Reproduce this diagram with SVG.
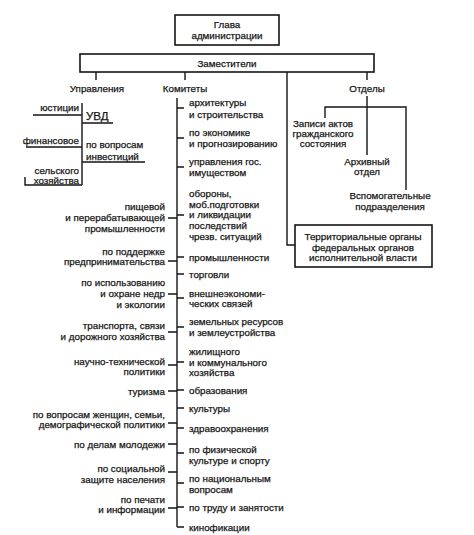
<svg xmlns="http://www.w3.org/2000/svg" width="474" height="535" viewBox="0 0 474 535">
<style>
text{font-family:"Liberation Sans",Arial,sans-serif;font-size:9.8px;fill:#151515;stroke:#151515;stroke-width:0.25}
.m{text-anchor:middle}
.r{text-anchor:end}
.box{fill:#fff;stroke:#151515;stroke-width:1.6}
.ln{fill:none;stroke:#151515;stroke-width:1.4}
</style>
<rect width="474" height="535" fill="#fff"/>
<g id="connectors" class="ln">
<path d="M96 72V80M185 72V80M367 72V80M287 72V245H295"/>
<path d="M82 103V185M33 115H82M82 123H113M26 147H82M82 162H145M25 177V185H82"/>
<path d="M177 98V527"/>
<path d="M177 108H184M177 138H184M177 167H184M177 215H184M177 257H184M177 274H184M177 298H184M177 327H184M177 362H184M177 390H184M177 408H184M177 428H184M177 453H184M177 483H184M177 507H184M177 527H184"/>
<path d="M168 218H177M168 261H177M168 294H177M168 332H177M168 365H177M168 391H177M168 423H177M168 444H177M168 472H177M168 508H177"/>
<path d="M367 96V155M325 118V107H406V190"/>
</g>
<g id="head">
<rect class="box" x="175" y="15" width="104" height="30"/>
<text class="m" x="227" y="27.5">Глава</text>
<text class="m" x="227" y="38.5">администрации</text>
</g>
<g id="deputies">
<rect class="box" x="80" y="54" width="294" height="18"/>
<text class="m" x="227" y="66.5">Заместители</text>
</g>
<g id="upravleniya"><text class="m" x="97" y="91.5">Управления</text></g>
<g id="komitety"><text class="m" x="185" y="91.5">Комитеты</text></g>
<g id="otdely"><text class="m" x="367" y="91.5">Отделы</text></g>
<g id="u-left">
<text class="r" x="79" y="110.5">юстиции</text>
<text x="86" y="120" style="font-size:11.5px">УВД</text>
<text class="r" x="79" y="143.5">финансовое</text>
<text x="86" y="147.5">по вопросам</text>
<text x="86" y="159.5">инвестиций</text>
<text class="r" x="79" y="173.5">сельского</text>
<text class="r" x="79" y="183.5">хозяйства</text>
</g>
<g id="u-right">
<text class="r" x="165" y="209.5">пищевой</text>
<text class="r" x="165" y="220.5">и перерабатывающей</text>
<text class="r" x="165" y="231.5">промышленности</text>
<text class="r" x="165" y="254.5">по поддержке</text>
<text class="r" x="165" y="264.5">предпринимательства</text>
<text class="r" x="165" y="285.5">по использованию</text>
<text class="r" x="165" y="296.5">и охране недр</text>
<text class="r" x="165" y="308">и экологии</text>
<text class="r" x="165" y="328.5">транспорта, связи</text>
<text class="r" x="165" y="339.5">и дорожного хозяйства</text>
<text class="r" x="165" y="364.5">научно-технической</text>
<text class="r" x="165" y="374.5">политики</text>
<text class="r" x="165" y="394.5">туризма</text>
<text class="r" x="165" y="417.5">по вопросам женщин, семьи,</text>
<text class="r" x="165" y="427.5">демографической политики</text>
<text class="r" x="165" y="447.5">по делам молодежи</text>
<text class="r" x="165" y="471.5">по социальной</text>
<text class="r" x="165" y="482.5">защите населения</text>
<text class="r" x="165" y="502.5">по печати</text>
<text class="r" x="165" y="512.5">и информации</text>
</g>
<g id="k-list">
<text x="189" y="105.5">архитектуры</text>
<text x="189" y="117.5">и строительства</text>
<text x="189" y="135.5">по экономике</text>
<text x="189" y="146.5">и прогнозированию</text>
<text x="189" y="164.5">управления гос.</text>
<text x="189" y="175.5">имуществом</text>
<text x="189" y="197">обороны,</text>
<text x="189" y="207.7">моб.подготовки</text>
<text x="189" y="218.4">и ликвидации</text>
<text x="189" y="229.1">последствий</text>
<text x="189" y="239.8">чрезв. ситуаций</text>
<text x="189" y="260.5">промышленности</text>
<text x="189" y="277.5">торговли</text>
<text x="189" y="296.5">внешнеэкономи-</text>
<text x="189" y="306.5">ческих связей</text>
<text x="189" y="324.5">земельных ресурсов</text>
<text x="189" y="335.5">и землеустройства</text>
<text x="189" y="354.5">жилищного</text>
<text x="189" y="365.5">и коммунального</text>
<text x="189" y="375.5">хозяйства</text>
<text x="189" y="393.5">образования</text>
<text x="189" y="411.5">культуры</text>
<text x="189" y="431.5">здравоохранения</text>
<text x="189" y="452.5">по физической</text>
<text x="189" y="463.5">культуре и спорту</text>
<text x="189" y="481.5">по национальным</text>
<text x="189" y="492.5">вопросам</text>
<text x="189" y="510.5">по труду и занятости</text>
<text x="189" y="530.5">кинофикации</text>
</g>
<g id="zags">
<text class="m" x="323" y="126.5">Записи актов</text>
<text class="m" x="323" y="136.5">гражданского</text>
<text class="m" x="323" y="146.5">состояния</text>
</g>
<g id="archive">
<text class="m" x="367" y="164.5">Архивный</text>
<text class="m" x="367" y="174.5">отдел</text>
</g>
<g id="support">
<text class="m" x="390" y="198.5">Вспомогательные</text>
<text class="m" x="390" y="209.5">подразделения</text>
</g>
<g id="territorial">
<rect class="box" x="295" y="225" width="137" height="42"/>
<text class="m" x="363" y="240">Территориальные органы</text>
<text class="m" x="363" y="250.5">федеральных органов</text>
<text class="m" x="363" y="261">исполнительной власти</text>
</g>
</svg>
